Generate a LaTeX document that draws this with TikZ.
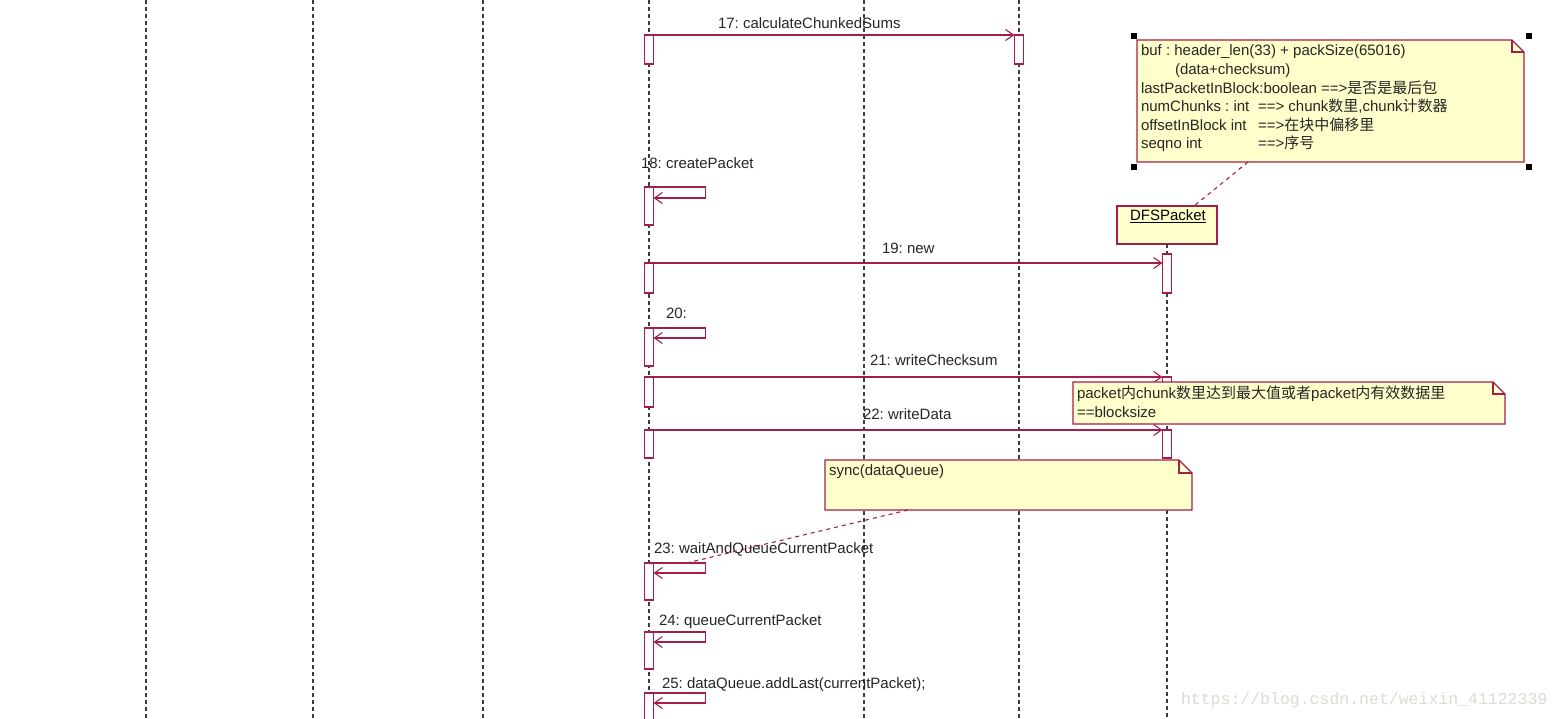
\documentclass[tikz,border=0pt]{standalone}
\usepackage{fontspec}
\setmainfont{Liberation Sans}
\newfontfamily\cjkfont{Noto Sans CJK SC}
\newfontfamily\wmfont{Liberation Mono}
\newcommand\zh[1]{{\cjkfont #1}}
\usetikzlibrary{arrows.meta}
\definecolor{rose}{RGB}{165,30,75}
\definecolor{notefill}{RGB}{255,255,204}
\definecolor{lifegray}{RGB}{60,60,60}
\definecolor{wmgray}{RGB}{222,218,212}
\frenchspacing
\begin{document}
\begin{tikzpicture}[x=1pt,y=-1pt,
  every node/.style={font=\fontsize{15}{18}\selectfont\frenchspacing, inner sep=0pt, outer sep=0pt},
  lifeline/.style={draw=lifegray, line width=1.1pt, dash pattern=on 4pt off 3pt},
  actbox/.style={draw=rose, fill=white, line width=1.2pt, minimum width=9pt, anchor=north},
  msg/.style={draw=rose, line width=1.1pt, -{Straight Barb[length=8pt,width=11pt,line width=1.1pt]}},
  notebody/.style={draw=none, fill=none, anchor=north west},
  noteline/.style={draw=rose, line width=1.2pt, fill=notefill},
  anchorline/.style={draw=rose, line width=1.1pt, dash pattern=on 4pt off 4pt},
  lbl/.style={anchor=base west, text=black!85},
  handle/.style={fill=black}
]
\useasboundingbox (0,0) rectangle (1561,719);
\fill[white] (0,0) rectangle (1561,719);

% lifelines
\foreach \x in {146,313,483,649,864,1019}
  \draw[lifeline] (\x,0) -- (\x,719);

% DFSPacket object
\node[draw=rose, fill=notefill, line width=1.2pt, minimum width=100pt, minimum height=38pt, anchor=north west] (dfs) at (1117,206) {};
\node[lbl, text=black] (dfst) at (1130,221) {\underline{DFSPacket}};
\draw[lifeline] (dfs.south) -- (dfs.south |- 0,719);

% activation boxes on caller lifeline
\node[actbox, minimum height=29pt] (a17) at (649,35) {};
\node[actbox, minimum height=38pt] (a18) at (649,187) {};
\node[actbox, minimum height=30pt] (a19) at (649,263) {};
\node[actbox, minimum height=38pt] (a20) at (649,328) {};
\node[actbox, minimum height=30pt] (a21) at (649,377) {};
\node[actbox, minimum height=28pt] (a22) at (649,430) {};
\node[actbox, minimum height=37pt] (a23) at (649,563) {};
\node[actbox, minimum height=37pt] (a24) at (649,632) {};
\node[actbox, minimum height=32pt] (a25) at (649,693) {};
% other activations
\node[actbox, minimum height=29pt] (b17) at (1019,35) {};
\node[actbox, minimum height=39pt] (c19) at (1167,254) {};
\node[actbox, minimum height=30pt] (c21) at (1167,377) {};
\node[actbox, minimum height=28pt] (c22) at (1167,430) {};

% messages
\draw[msg] (a17.north east) -- (b17.north west);
\draw[msg] (a19.north east) -- (a19.north east -| c19.west);
\draw[msg] (a21.north east) -- (a21.north east -| c21.west);
\draw[msg] (a22.north east) -- (a22.north east -| c22.west);
% self calls
\draw[msg] (a18.north east) -- ++(52,0) -- ++(0,11) -- ([yshift=-11pt]a18.north east);
\draw[msg] (a20.north east) -- ++(52,0) -- ++(0,10) -- ([yshift=-10pt]a20.north east);
\draw[msg] (a23.north east) -- ++(52,0) -- ++(0,10) -- ([yshift=-10pt]a23.north east);
\draw[msg] (a24.north east) -- ++(52,0) -- ++(0,10) -- ([yshift=-10pt]a24.north east);
\draw[msg] (a25.north east) -- ++(52,0) -- ++(0,10) -- ([yshift=-10pt]a25.north east);

% message labels
\node[lbl] (m17) at (718,29) {17: calculateChunkedSums};
\node[lbl] (m18) at (641,169) {18: createPacket};
\node[lbl] (m19) at (882,254) {19: new};
\node[lbl] (m20) at (666,319) {20:};
\node[lbl] (m21) at (870,366) {21: writeChecksum};
\node[lbl] (m22) at (863,419) {22: writeData};
\node[lbl] (m23) at (654,553) {23: waitAndQueueCurrentPacket};
\node[lbl] (m24) at (659,625) {24: queueCurrentPacket};
\node[lbl] (m25) at (662,688) {25: dataQueue.addLast(currentPacket);};

% note 1
\node[notebody, minimum width=387pt, minimum height=122pt] (n1) at (1137,40) {};
\draw[noteline] (n1.north west) -- ([xshift=-12pt]n1.north east) -- ([yshift=-12pt]n1.north east) -- (n1.south east) -- (n1.south west) -- cycle;
\draw[draw=rose, line width=1.1pt] ([xshift=-12pt]n1.north east) |- ([yshift=-12pt]n1.north east);
\node[lbl] (n1a) at (1141,56) {buf : header\_len(33) + packSize(65016)};
\node[lbl] (n1b) at (1175,75) {(data+checksum)};
\node[lbl] (n1c) at (1141,94) {lastPacketInBlock:boolean ==>\zh{是否是最后包}};
\node[lbl] (n1d) at (1141,112) {numChunks : int};
\node[lbl] (n1e) at (1258,112) {==> chunk\zh{数里},chunk\zh{计数器}};
\node[lbl] (n1f) at (1141,131) {offsetInBlock int};
\node[lbl] (n1g) at (1258,131) {==>\zh{在块中偏移里}};
\node[lbl] (n1h) at (1141,149) {seqno int};
\node[lbl] (n1i) at (1258,149) {==>\zh{序号}};
% selection handles
\fill[handle] (1131,33) rectangle ++(6,6);
\fill[handle] (1526,33) rectangle ++(6,6);
\fill[handle] (1131,164) rectangle ++(6,6);
\fill[handle] (1526,164) rectangle ++(6,6);
\draw[anchorline] ([xshift=111pt]n1.south west) -- ([xshift=77pt]dfs.north west);

% note 2
\node[notebody, minimum width=432pt, minimum height=42pt] (n2) at (1073,382) {};
\draw[noteline] (n2.north west) -- ([xshift=-12pt]n2.north east) -- ([yshift=-12pt]n2.north east) -- (n2.south east) -- (n2.south west) -- cycle;
\draw[draw=rose, line width=1.1pt] ([xshift=-12pt]n2.north east) |- ([yshift=-12pt]n2.north east);
\node[lbl] (n2a) at (1077,398) {packet\zh{内}chunk\zh{数里达到最大值或者}packet\zh{内有效数据里}};
\node[lbl] (n2b) at (1077,417) {==blocksize};

% note 3
\node[notebody, minimum width=367pt, minimum height=50pt] (n3) at (825,460) {};
\draw[noteline] (n3.north west) -- ([xshift=-13pt]n3.north east) -- ([yshift=-13pt]n3.north east) -- (n3.south east) -- (n3.south west) -- cycle;
\draw[draw=rose, line width=1.1pt] ([xshift=-13pt]n3.north east) |- ([yshift=-13pt]n3.north east);
\node[lbl] (n3a) at (829,475) {sync(dataQueue)};
\draw[anchorline] ([xshift=83pt]n3.south west) -- ([xshift=33pt]a23.north east);

% watermark
\node[anchor=base west, text=wmgray, font=\wmfont\fontsize{16.5}{18}\selectfont] (wm) at (1181,704) {https://blog.csdn.net/weixin\_41122339};
\end{tikzpicture}
\end{document}
